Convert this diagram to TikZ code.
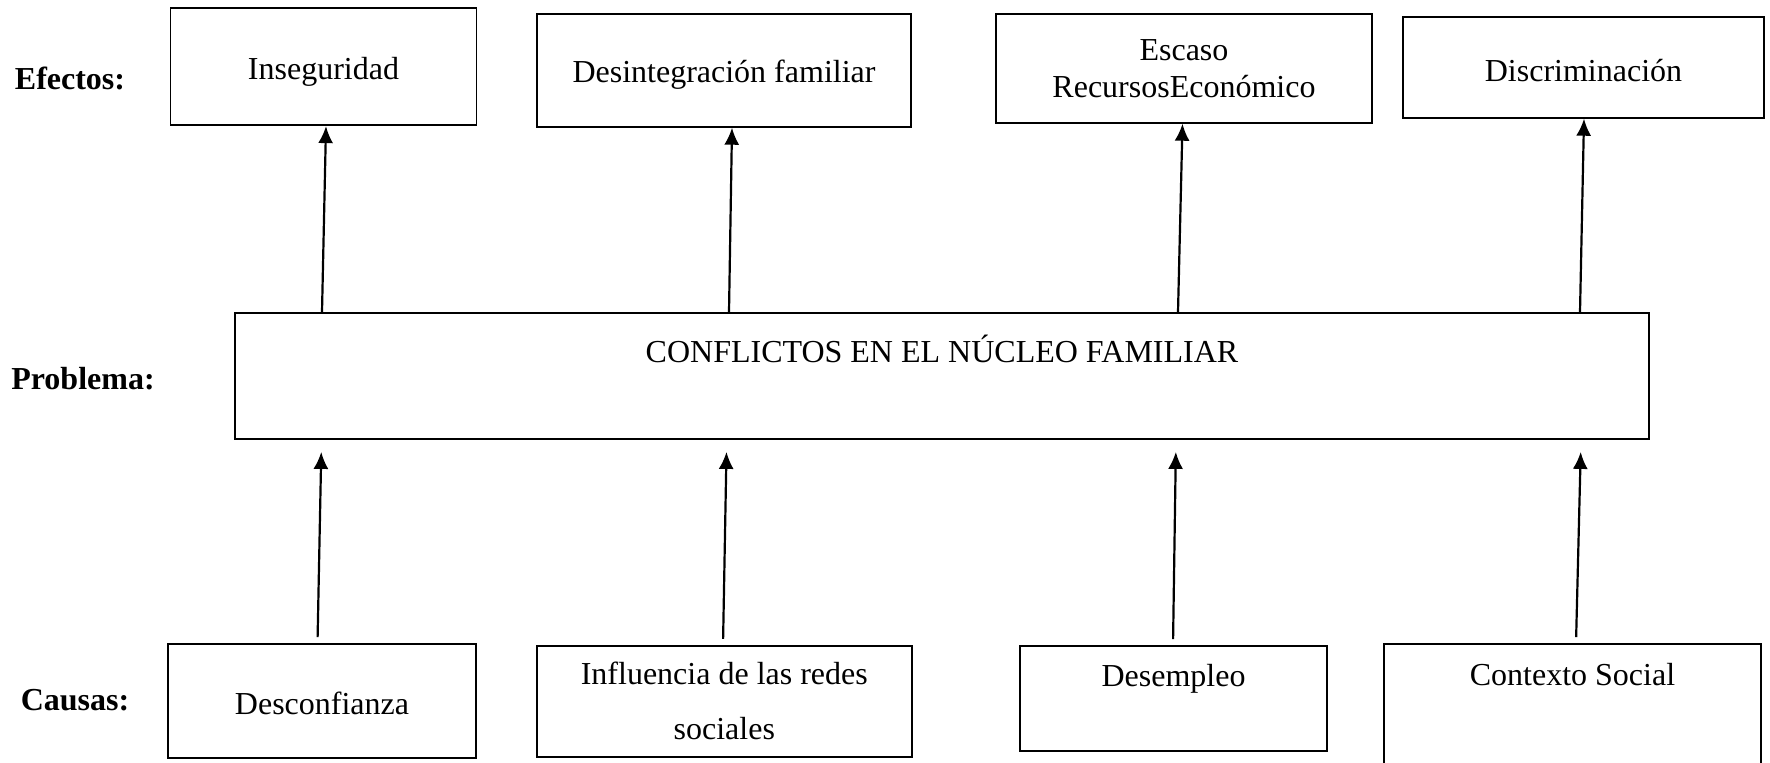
\documentclass[tikz,border=0pt]{standalone}
\usepackage{fontspec}
\setmainfont{Liberation Serif}
\usepackage{tikz}
\usetikzlibrary{arrows.meta}
\tikzstyle{box} = [rectangle, draw=black, line width=1.8pt, align=center, inner sep=0pt]
\tikzstyle{tag} = [font=\fontsize{32}{37}\selectfont\bfseries, anchor=base]
\tikzstyle{arrow} = [line width=2.2pt, -{Latex[length=17pt,width=15pt]}]
\tikzstyle{causearrow} = [arrow, shorten <=6pt, shorten >=12pt]

\begin{document}
\begin{tikzpicture}[x=1pt, y=-1pt, font=\fontsize{32}{37}\selectfont]

		\useasboundingbox (0,0) rectangle (1770,763);

		\node (efectos) [tag] at (70,89) {Efectos:};
		\node (problema) [tag] at (83,389) {Problema:};
		\node (causas) [tag] at (75,710) {Causas:};

		\node (insec) [box, minimum width=306pt, minimum height=117pt, text height=33pt, text depth=8pt] at (323.5,66.7) {Inseguridad};
		\node (desint) [box, minimum width=374pt, minimum height=113pt, text height=33pt, text depth=8pt] at (724,70.3) {Desintegración familiar};
		\node (escaso) [box, minimum width=376pt, minimum height=109pt] at (1184,68.3) {Escaso\\RecursosEconómico};
		\node (discrim) [box, minimum width=361pt, minimum height=101pt, text height=37pt, text depth=8pt] at (1583.5,67.3) {Discriminación};

		\node (prob) [box, minimum width=1414pt, minimum height=126pt, text height=22pt, text depth=50pt] at (942,376) {CONFLICTOS EN EL NÚCLEO FAMILIAR};

		\node (desconf) [box, minimum width=308pt, minimum height=114pt, text height=35pt, text depth=8pt] at (322,701) {Desconfianza};
		\node (influ) [box, minimum width=375pt, minimum height=111pt] at (724.3,701.3) {Influencia de las redes\\[18pt]sociales};
		\node (desemp) [box, minimum width=307pt, minimum height=105pt, text height=22pt, text depth=46pt] at (1173.5,698.5) {Desempleo};
		\node (context) [box, minimum width=377pt, minimum height=131pt, text height=22pt, text depth=71pt] at (1572.5,709.5) {Contexto Social};

		\draw [arrow] (prob.north -| 322,0) -- (insec.south -| 326,0);
		\draw [arrow] (prob.north -| 729,0) -- (desint.south -| 732,0);
		\draw [arrow] (prob.north -| 1178,0) -- (escaso.south -| 1182.5,0);
		\draw [arrow] (prob.north -| 1580,0) -- (discrim.south -| 1584,0);

		\draw [causearrow] (desconf.north -| 317.5,0) -- (prob.south -| 321.5,0);
		\draw [causearrow] (influ.north -| 723,0) -- (prob.south -| 726.7,0);
		\draw [causearrow] (desemp.north -| 1173,0) -- (prob.south -| 1176,0);
		\draw [causearrow] (context.north -| 1576,0) -- (prob.south -| 1581,0);

	\end{tikzpicture}
\end{document}
